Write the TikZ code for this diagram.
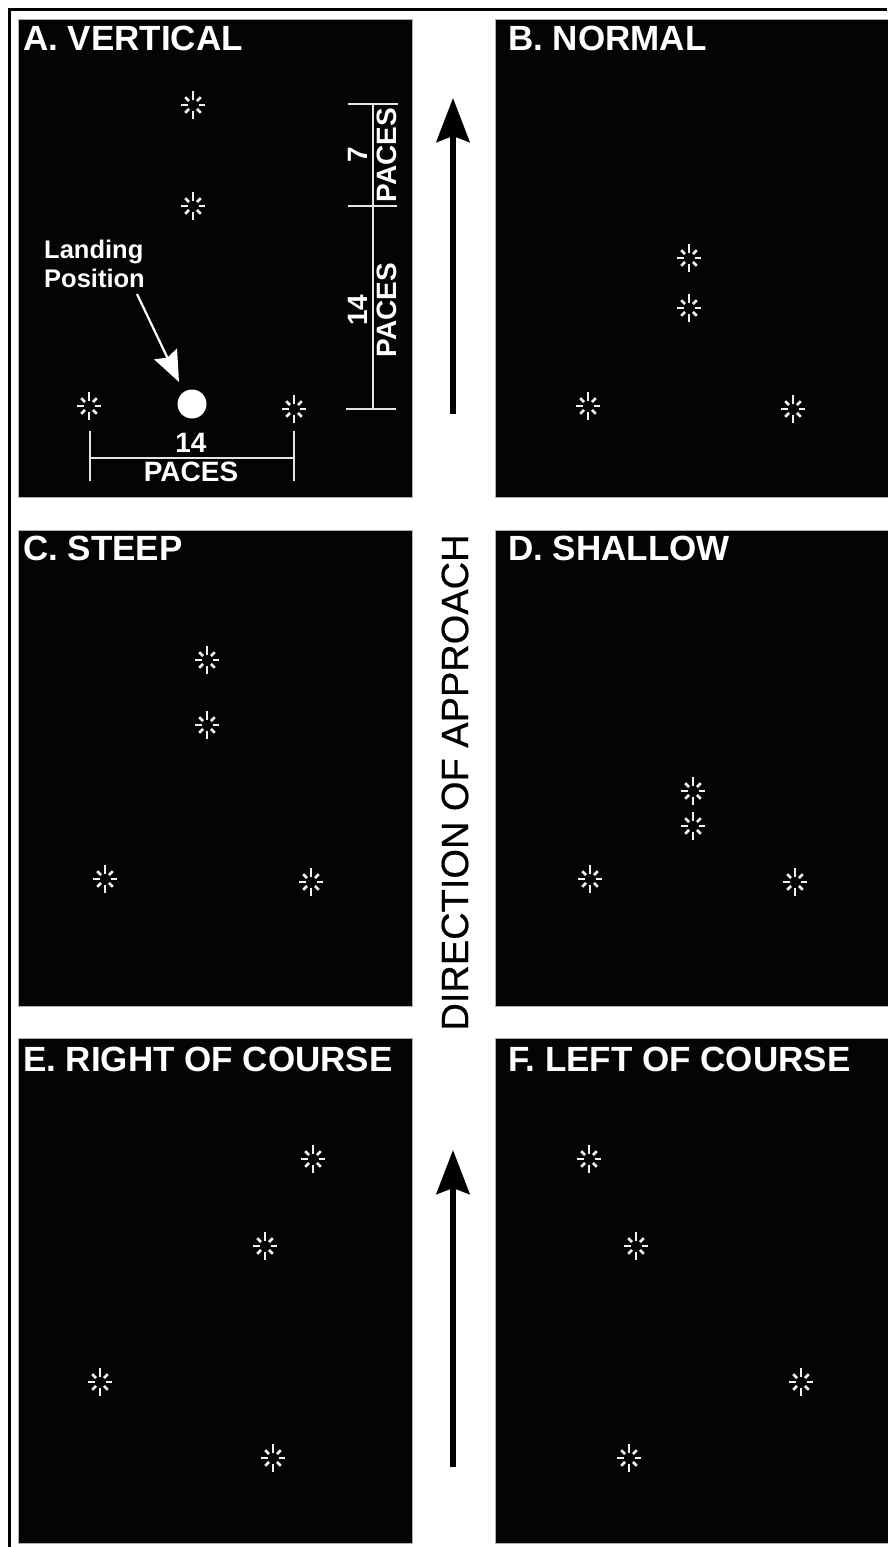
\documentclass[tikz,border=0pt]{standalone}
\usepackage{fontspec}
\setmainfont{Liberation Sans}
\newfontfamily\approachfont[FakeBold=0.5]{Liberation Sans}
\usepackage{xcolor}
\usetikzlibrary{arrows.meta}
\definecolor{panel-bg}{HTML}{040404}
\definecolor{panel-edge}{HTML}{B0B0B0}
\definecolor{flare-ray}{HTML}{F2F2F2}

\tikzset{
  panelbox/.style={draw=panel-edge, line width=1pt, fill=panel-bg, inner sep=0pt, anchor=north west},
  paneltitle/.style={text=white, font=\fontsize{35}{35}\selectfont\bfseries, inner sep=0pt, anchor=base west},
  pacetext/.style={text=white, font=\fontsize{28}{28}\selectfont\bfseries, inner sep=0pt},
  dimline/.style={draw=white!90!black, line width=2.5pt},
  flare/.pic={
    \foreach \ang/\len in {0/12, 45/11, 90/14, 135/11, 180/12, 225/11, 270/14, 315/11}
      \draw[flare-ray, line width=2.6pt] (\ang:5.5pt) -- (\ang:\len pt);
  }
}

\begin{document}
\begin{tikzpicture}[x=1pt, y=-1pt]
    \useasboundingbox (0, 0) rectangle (887, 1547);
    \fill[white] (0, 0) rectangle (887, 1547);

    % outer frame
    \coordinate (framebl) at (9.5, 1547);
    \coordinate (frametl) at (9.5, 9.5);
    \coordinate (frametr) at (887, 9.5);
    \draw[black, line width=3pt] (framebl) -- (frametl) -- (frametr);

    % panels
    \node[panelbox, minimum width=394pt, minimum height=478pt] (panela) at (18, 19) {};
    \node[panelbox, minimum width=394pt, minimum height=478pt] (panelb) at (495, 19) {};
    \node[panelbox, minimum width=394pt, minimum height=476pt] (panelc) at (18, 530) {};
    \node[panelbox, minimum width=394pt, minimum height=476pt] (paneld) at (495, 530) {};
    \node[panelbox, minimum width=394pt, minimum height=505pt] (panele) at (18, 1038) {};
    \node[panelbox, minimum width=394pt, minimum height=505pt] (panelf) at (495, 1038) {};

    \node[paneltitle] (titlea) at (23, 50) {A. VERTICAL};
    \node[paneltitle] (titleb) at (508, 50) {B. NORMAL};
    \node[paneltitle] (titlec) at (23, 560) {C. STEEP};
    \node[paneltitle] (titled) at (508, 560) {D. SHALLOW};
    \node[paneltitle] (titlee) at (23, 1071) {E. RIGHT OF COURSE};
    \node[paneltitle] (titlef) at (508, 1071) {F. LEFT OF COURSE};

    % flares
    \foreach \fx/\fy in {193/105, 193/206, 89/406, 294/409,
                         689/258, 689/308, 588/406, 793/409,
                         207/660, 207/725, 105/879, 311/882,
                         693/791, 693/826, 590/879, 795/882,
                         313/1159, 265/1246, 100/1382, 273/1458,
                         589/1159, 636/1246, 801/1382, 629/1458}
      \pic at (\fx, \fy) {flare};

    % landing position
    \node[circle, fill=white, minimum size=29pt, inner sep=0pt] (landing) at (192, 404) {};
    \node[text=white, font=\fontsize{25.5}{28.5}\selectfont\bfseries, inner sep=0pt, align=left, anchor=north west] (landlabel) at (44, 240) {Landing\\Position};
    \coordinate (landstart) at (137, 294);
    \coordinate (landtip) at (179, 382);
    \draw[white, line width=2.2pt, -{Stealth[length=31pt, width=25pt, inset=4pt]}] (landstart) -- (landtip);

    % side dimension
    \coordinate (sidetop) at (373, 104);
    \coordinate (sidemid) at (373, 206);
    \coordinate (sidebot) at (373, 409);
    \draw[dimline] (sidetop) -- (sidebot);
    \draw[dimline] (348, 104) -- (398, 104);
    \draw[dimline] (348, 206) -- (397, 206);
    \draw[dimline] (346, 409) -- (396, 409);
    \node[pacetext, rotate=90] (seven) at (358, 155) {7};
    \node[pacetext, rotate=90] (pacesa) at (387, 155) {PACES};
    \node[pacetext, rotate=90] (fourteena) at (358, 310) {14};
    \node[pacetext, rotate=90] (pacesb) at (387, 310) {PACES};

    % bottom dimension
    \coordinate (botleft) at (90, 458);
    \coordinate (botright) at (294, 458);
    \draw[dimline] (botleft) -- (botright);
    \draw[dimline] (90, 431) -- (90, 481);
    \draw[dimline] (294, 431) -- (294, 481);
    \node[pacetext] (fourteenb) at (191, 443) {14};
    \node[pacetext] (pacesc) at (191, 472) {PACES};

    % direction of approach
    \coordinate (arrowabot) at (453, 414);
    \coordinate (arrowatop) at (453, 98);
    \coordinate (arrowbbot) at (453, 1467);
    \coordinate (arrowbtop) at (453, 1150);
    \draw[black, line width=6pt, -{Stealth[length=44pt, width=33pt, inset=6pt]}] (arrowabot) -- (arrowatop);
    \draw[black, line width=6pt, -{Stealth[length=44pt, width=33pt, inset=6pt]}] (arrowbbot) -- (arrowbtop);
    \node[text=black, font=\fontsize{38}{38}\selectfont\approachfont, inner sep=0pt, rotate=90] (direction) at (455, 782.5) {DIRECTION OF APPROACH};
  \end{tikzpicture}
\end{document}
